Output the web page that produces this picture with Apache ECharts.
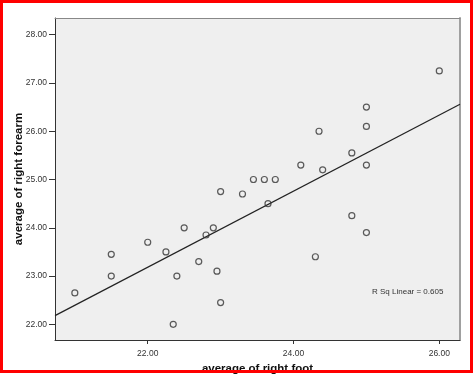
<!DOCTYPE html>
<html>
<head>
<meta charset="utf-8">
<script src="https://cdn.jsdelivr.net/npm/echarts@6/dist/echarts.min.js"></script>
<style>
html,body{margin:0;padding:0;background:#fff;}
#c{width:474px;height:375px;}
</style>
</head>
<body>
<div id="c"></div>
<script>
// Data
var footValues = [21.0, 21.5, 21.5, 22.25, 22.4, 22.7, 22.95, 23.0, 22.35, 24.3,
                  22.0, 22.5, 22.8, 22.9, 23.0, 23.3, 23.45, 23.6, 23.75, 23.65,
                  24.1, 24.35, 24.4, 24.8, 25.0, 25.0, 24.8, 25.0, 25.0, 26.0];
var forearmValues = [22.65, 23.45, 23.0, 23.5, 23.0, 23.3, 23.1, 22.45, 22.0, 23.4,
                     23.7, 24.0, 23.85, 24.0, 24.75, 24.7, 25.0, 25.0, 25.0, 24.5,
                     25.3, 26.0, 25.2, 25.55, 25.3, 26.1, 24.25, 23.9, 26.5, 27.25];
var fitX = [20.728, 26.284];
var fitY = [22.18, 26.558];
var xTicks = [22, 24, 26];
var yTicks = [22, 23, 24, 25, 26, 27, 28];
var xRange = [20.728, 26.284];
var yRange = [21.675, 28.346];
var rSqText = 'R Sq Linear = 0.605';
var xTitle = 'average of right foot';
var yTitle = 'average of right forearm';

var points = footValues.map(function (v, i) { return [v, forearmValues[i]]; });
var fitLine = fitX.map(function (v, i) { return [v, fitY[i]]; });

var chart = echarts.init(document.getElementById('c'), null, {renderer: 'canvas'});
var font = 'Liberation Sans, Arial, sans-serif';
chart.setOption({
  animation: false,
  backgroundColor: '#ffffff',
  grid: {left: 55, right: 14, top: 18, bottom: 35, show: true, backgroundColor: '#efefef', borderWidth: 0,
    containLabel: false, outerBoundsMode: 'none'},
  xAxis: [{
    type: 'value', min: xRange[0], max: xRange[1],
    splitLine: {show: false},
    axisLine: {show: true, onZero: false, lineStyle: {color: '#333', width: 1}},
    axisTick: {show: true, length: 4, lineStyle: {color: '#333'}, customValues: xTicks},
    axisLabel: {color: '#333', fontSize: 8.5, fontFamily: font, margin: 9, customValues: xTicks,
      formatter: function (v) { return v.toFixed(2); }},
    name: xTitle, nameLocation: 'middle', nameGap: 23, nameMoveOverlap: false,
    nameTextStyle: {fontSize: 11.5, fontWeight: 'bold', color: '#111', fontFamily: font}
  }, {
    type: 'value', position: 'top', min: xRange[0], max: xRange[1],
    splitLine: {show: false}, axisTick: {show: false}, axisLabel: {show: false},
    axisLine: {show: true, onZero: false, lineStyle: {color: '#888', width: 1}}
  }],
  yAxis: [{
    type: 'value', min: yRange[0], max: yRange[1],
    splitLine: {show: false},
    axisLine: {show: true, onZero: false, lineStyle: {color: '#333', width: 1}},
    axisTick: {show: true, length: 6, lineStyle: {color: '#333'}, customValues: yTicks},
    axisLabel: {color: '#333', fontSize: 8.5, fontFamily: font, margin: 8, customValues: yTicks,
      formatter: function (v) { return v.toFixed(2); }},
    name: yTitle, nameLocation: 'middle', nameGap: 30, nameRotate: 90, nameMoveOverlap: false,
    nameTextStyle: {fontSize: 11.5, fontWeight: 'bold', color: '#111', fontFamily: font}
  }, {
    type: 'value', position: 'right', min: yRange[0], max: yRange[1],
    splitLine: {show: false}, axisTick: {show: false}, axisLabel: {show: false},
    axisLine: {show: true, onZero: false, lineStyle: {color: '#a0a0a0', width: 2}}
  }],
  series: [{
    type: 'line', data: fitLine, showSymbol: false, symbol: 'none',
    lineStyle: {color: '#222', width: 1.2}, silent: true, z: 2
  }, {
    type: 'scatter', data: points, symbol: 'circle', symbolSize: 6,
    itemStyle: {color: 'rgba(0,0,0,0)', borderColor: '#333', borderWidth: 1.2}, z: 3
  }],
  graphic: [{
    type: 'text', left: 372, top: 288,
    style: {text: rSqText, fontSize: 8, fontFamily: font, fill: '#333'}
  }, {
    type: 'rect', shape: {x: 1.5, y: 1.5, width: 470, height: 370},
    style: {fill: 'none', stroke: '#ff0000', lineWidth: 3}, z: 100
  }]
});
</script>
</body>
</html>
